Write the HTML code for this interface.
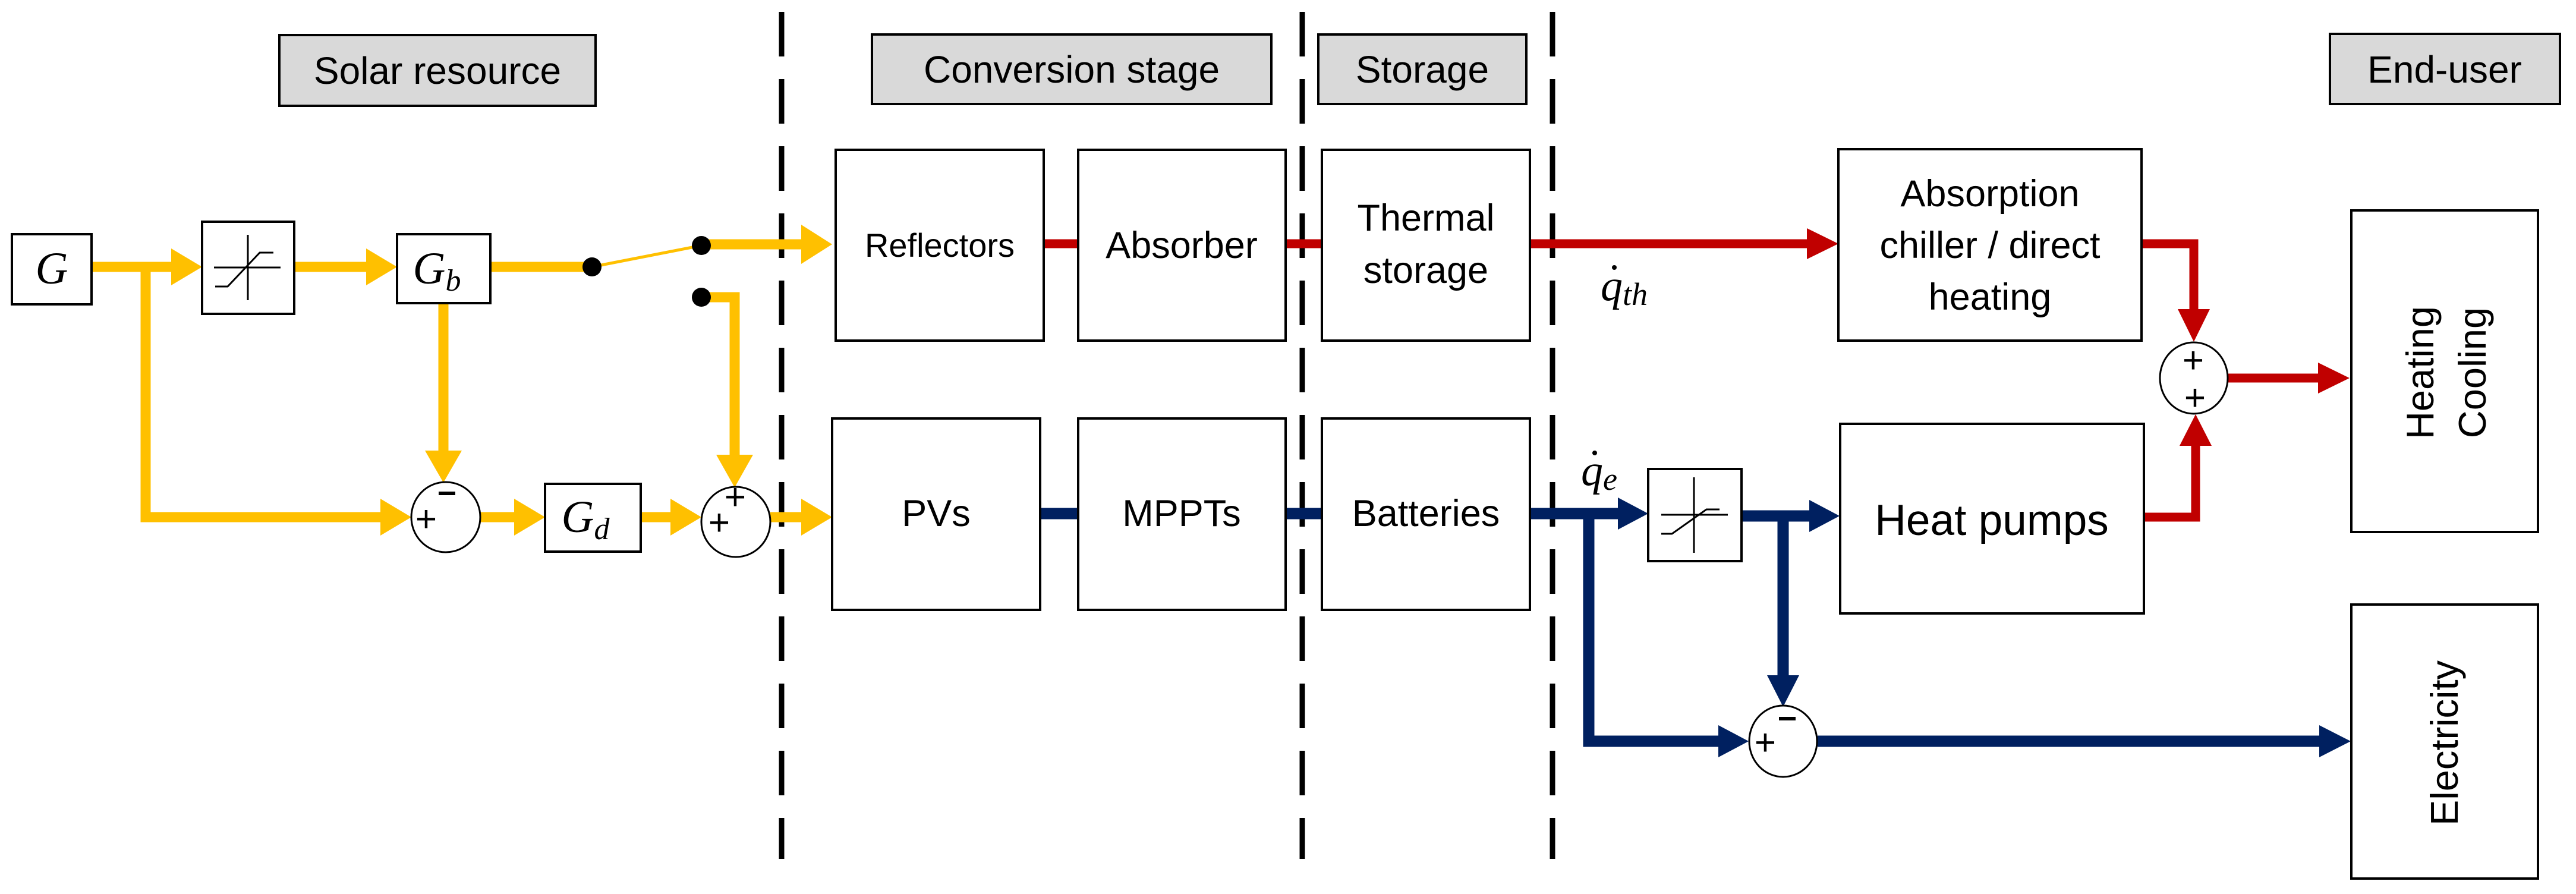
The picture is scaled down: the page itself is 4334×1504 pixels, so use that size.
<!DOCTYPE html>
<html><head><meta charset="utf-8"><style>
html,body{margin:0;padding:0;background:#fff;}
svg{display:block;}
text{font-family:"Liberation Sans",sans-serif;fill:#000;}
.m{font-family:"Liberation Serif",serif;font-style:italic;}
</style></head><body>
<svg width="4334" height="1504" viewBox="0 0 4334 1504" xmlns="http://www.w3.org/2000/svg">
<g stroke="#000" stroke-width="9" stroke-dasharray="75 38">
<line x1="1315" y1="20" x2="1315" y2="1445"/>
<line x1="2191" y1="20" x2="2191" y2="1445"/>
<line x1="2612" y1="20" x2="2612" y2="1445"/>
</g>
<g fill="#d9d9d9" stroke="#000" stroke-width="4">
<rect x="470" y="59" width="532" height="119"/>
<rect x="1467" y="58" width="672" height="117"/>
<rect x="2218" y="58" width="350" height="117"/>
<rect x="3920" y="57" width="387" height="118"/>
</g>
<g font-size="64" text-anchor="middle">
<text x="736" y="141">Solar resource</text>
<text x="1803" y="139">Conversion stage</text>
<text x="2393" y="139">Storage</text>
<text x="4113" y="139">End-user</text>
</g>

<g stroke="#ffc000" stroke-width="17" fill="none">
<line x1="154" y1="449" x2="292" y2="449"/>
<line x1="495" y1="449" x2="618" y2="449"/>
<line x1="825" y1="449" x2="996" y2="449"/>
<line x1="1180" y1="411" x2="1352" y2="411"/>
<polyline points="1180,500 1236,500 1236,765"/>
<line x1="746" y1="510" x2="746" y2="760"/>
<polyline points="245,449 245,870 642,870"/>
<line x1="808" y1="870" x2="868" y2="870"/>
<line x1="1078" y1="870" x2="1132" y2="870"/>
<line x1="1296" y1="870" x2="1352" y2="870"/>
</g>
<line x1="996" y1="449" x2="1180" y2="413" stroke="#ffc000" stroke-width="5"/>
<g fill="#ffc000">
<polygon points="288,418 340,449 288,480"/>
<polygon points="616,418 668,449 616,480"/>
<polygon points="1348,378 1400,411 1348,444"/>
<polygon points="1205,765 1236,820 1267,765"/>
<polygon points="715,758 746,812 777,758"/>
<polygon points="640,839 692,870 640,901"/>
<polygon points="865,839 917,870 865,901"/>
<polygon points="1128,839 1180,870 1128,901"/>
<polygon points="1348,839 1400,870 1348,901"/>
</g>
<circle cx="996" cy="449" r="16" fill="#000"/>
<circle cx="1180" cy="413" r="16" fill="#000"/>
<circle cx="1180" cy="500" r="16" fill="#000"/>

<g stroke="#c00000" stroke-width="15" fill="none">
<line x1="1756" y1="410" x2="1814" y2="410"/>
<line x1="2163" y1="410" x2="2224" y2="410"/>
<line x1="2574" y1="410" x2="3045" y2="410"/>
<polyline points="3603,410 3691,410 3691,525"/>
<polyline points="3607,870 3694,870 3694,745"/>
<line x1="3749" y1="636" x2="3905" y2="636"/>
</g>
<g fill="#c00000">
<polygon points="3040,384 3093,410 3040,436"/>
<polygon points="3664,520 3691,575 3718,520"/>
<polygon points="3667,750 3694,697 3721,750"/>
<polygon points="3900,610 3953,636 3900,662"/>
</g>

<g stroke="#002060" stroke-width="19" fill="none">
<line x1="1750" y1="864" x2="1814" y2="864"/>
<line x1="2163" y1="864" x2="2224" y2="864"/>
<line x1="2574" y1="864" x2="2725" y2="864"/>
<polyline points="2673,864 2673,1247 2895,1247"/>
<line x1="2930" y1="868" x2="3048" y2="868"/>
<line x1="3000" y1="868" x2="3000" y2="1140"/>
<line x1="3058" y1="1247" x2="3905" y2="1247"/>
</g>
<g fill="#002060">
<polygon points="2722,837 2773,864 2722,891"/>
<polygon points="3044,841 3095,868 3044,895"/>
<polygon points="2973,1136 3000,1189 3027,1136"/>
<polygon points="2891,1220 2942,1247 2891,1274"/>
<polygon points="3902,1220 3955,1247 3902,1274"/>
</g>

<g fill="#fff" stroke="#000" stroke-width="4">
<rect x="20" y="394" width="134" height="118"/>
<rect x="340" y="373" width="155" height="155"/>
<rect x="668" y="394" width="157" height="116"/>
<rect x="917" y="814" width="161" height="114"/>
<rect x="1406" y="252" width="350" height="321"/>
<rect x="1814" y="252" width="349" height="321"/>
<rect x="2224" y="252" width="350" height="321"/>
<rect x="1400" y="704" width="350" height="322"/>
<rect x="1814" y="704" width="349" height="322"/>
<rect x="2224" y="704" width="350" height="322"/>
<rect x="2773" y="789" width="157" height="155"/>
<rect x="3093" y="251" width="510" height="322"/>
<rect x="3096" y="713" width="511" height="319"/>
<rect x="3956" y="354" width="314" height="541"/>
<rect x="3956" y="1017" width="314" height="461"/>
</g>
<g stroke="#000" stroke-width="3" fill="none">
<line x1="417" y1="395" x2="417" y2="505"/>
<line x1="360" y1="450" x2="472" y2="450"/>
<polyline points="362,482 383,482 437,425 460,425"/>
<line x1="2850" y1="803" x2="2850" y2="930"/>
<line x1="2795" y1="866" x2="2907" y2="866"/>
<polyline points="2795,898 2813,898 2871,857 2893,857"/>
</g>
<g fill="#fff" stroke="#000" stroke-width="3">
<ellipse cx="750" cy="870" rx="58" ry="59"/>
<ellipse cx="1238" cy="878" rx="58" ry="59"/>
<ellipse cx="3691" cy="636" rx="57" ry="60"/>
<ellipse cx="3000" cy="1247" rx="57" ry="60"/>
</g>
<g font-size="62" text-anchor="middle">
<text x="717" y="894">+</text>
<text x="1210" y="900">+</text>
<text x="1237" y="857">+</text>
<text x="3690" y="627">+</text>
<text x="3693" y="690">+</text>
<text x="2970" y="1270">+</text>
</g>
<g stroke="#000" stroke-width="6">
<line x1="738" y1="830" x2="766" y2="830"/>
<line x1="2993" y1="1209" x2="3021" y2="1209"/>
</g>

<g font-size="76" text-anchor="middle">
<text class="m" x="87" y="477">G</text>
<text class="m" x="735" y="477">G<tspan font-size="52" dy="12">b</tspan></text>
<text class="m" x="985" y="895">G<tspan font-size="52" dy="12">d</tspan></text>
</g>
<text class="m" x="2693" y="505" font-size="74">q<tspan font-size="54" dy="8">th</tspan></text>
<circle cx="2716" cy="450" r="4" fill="#000"/>
<text class="m" x="2660" y="816" font-size="74">q<tspan font-size="54" dy="8">e</tspan></text>
<circle cx="2683" cy="762" r="4" fill="#000"/>

<g text-anchor="middle" font-size="63">
<text x="1581" y="432" font-size="56">Reflectors</text>
<text x="1988" y="434">Absorber</text>
<text x="2399" y="388">Thermal</text>
<text x="2399" y="476">storage</text>
<text x="1575" y="885">PVs</text>
<text x="1988" y="885">MPPTs</text>
<text x="2399" y="885">Batteries</text>
<text x="3348" y="347">Absorption</text>
<text x="3348" y="434">chiller / direct</text>
<text x="3348" y="521">heating</text>
<text x="3351" y="900" font-size="73">Heat pumps</text>
<text transform="translate(4094,627) rotate(-90)" font-size="65">Heating</text>
<text transform="translate(4182,627) rotate(-90)" font-size="65">Cooling</text>
<text transform="translate(4135,1250) rotate(-90)" font-size="65">Electricity</text>
</g>
</svg>
</body></html>
